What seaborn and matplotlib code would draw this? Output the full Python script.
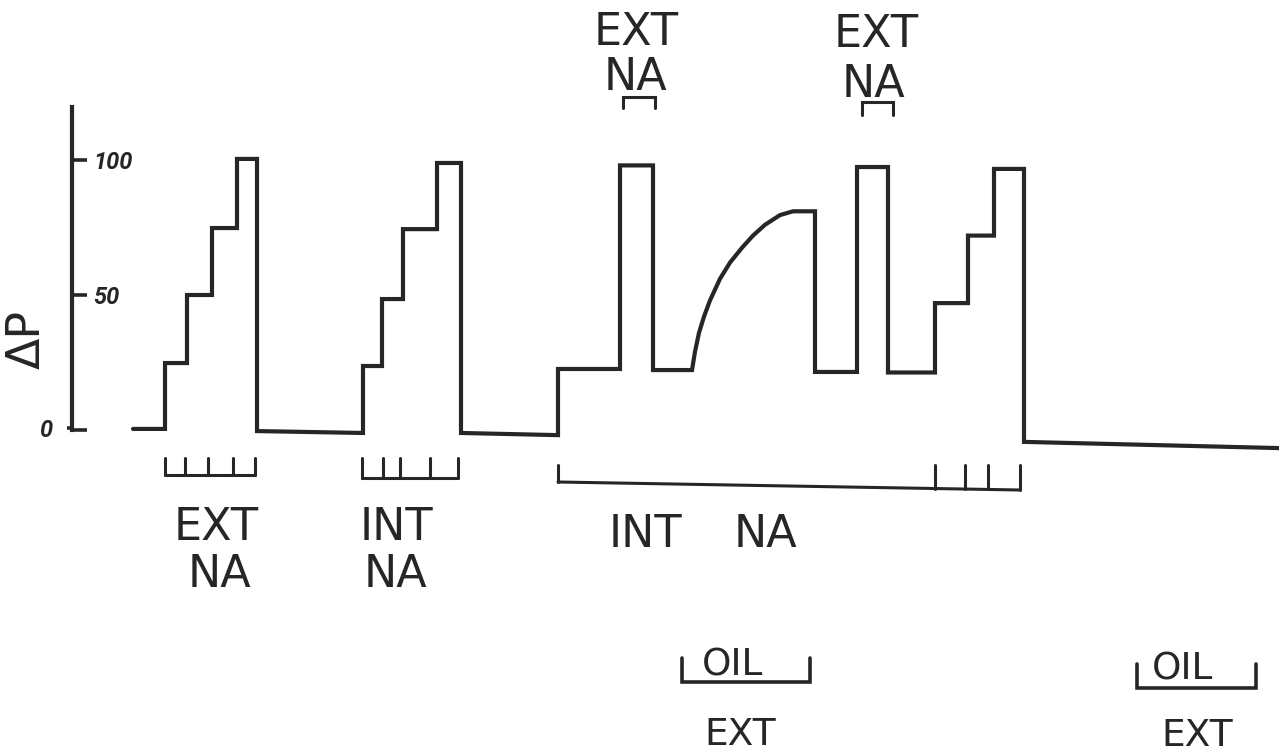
import numpy as np
import pandas as pd
import matplotlib
matplotlib.use("Agg")
import matplotlib.pyplot as plt
import seaborn as sns

# ---------------- data ----------------
# recorded trace: time (arbitrary units) and pressure difference ΔP
trace_time = [133, 165, 165, 187, 187, 212, 212, 237, 237, 257, 257,
              363, 363, 382, 382, 403, 403, 437, 437, 461, 461,
              558, 558, 620, 620, 653, 653, 692]
trace_dp = [0.4, 0.4, 24.8, 24.8, 50, 50, 74.8, 74.8, 100.4, 100.4, -0.4,
            -1.1, 23.7, 23.7, 48.5, 48.5, 74.4, 74.4, 98.9, 98.9, -1.1,
            -1.9, 22.6, 22.6, 98, 98, 22.2, 22.2]
curve_time = [695, 699, 704, 710, 720, 730, 742, 753, 765, 780, 793, 815]
curve_dp = [29, 36, 42, 48, 56, 62, 67.5, 72, 76, 79.6, 81, 81]
tail_time = [815, 857, 857, 888, 888, 935, 935, 968, 968, 994, 994, 1024, 1024, 1279]
tail_dp = [21.5, 21.5, 97.4, 97.4, 21.3, 21.3, 47, 47, 72, 72, 96.7, 96.7, -4.4, -6.7]

y_ticks = [0, 50, 100]
y_tick_labels = ["0", "50", "100"]
y_label = "ΔP"

# stimulus marks under the trace
marks_ext_na = [165, 185, 208, 233, 255]
marks_int_na = [362, 383, 400, 430, 458]
marks_int_na_long = [558, 935, 965, 988, 1020]
marks_top = [(623, 655), (862, 893)]
marks_oil = [(682, 810), (1137, 1256)]

# ---------------- layout helpers (pixel -> ΔP scale) ----------------
Y0_PX, PX_PER_UNIT = 430.0, 2.7
def V(py):
    return (Y0_PX - py) / PX_PER_UNIT

INK = "#262626"
W, H = 1279, 756

sns.set_style("white")
plt.rcParams["font.family"] = ["DejaVu Sans"]

fig = plt.figure(figsize=(W / 100, H / 100), dpi=100)
ax = fig.add_axes([0, 0, 1, 1])

df = pd.DataFrame({
    "t": trace_time + curve_time + tail_time,
    "dp": trace_dp + curve_dp + tail_dp,
})
sns.lineplot(data=df, x="t", y="dp", sort=False, estimator=None,
             color=INK, lw=3.0, ax=ax, solid_joinstyle="miter")

ax.set_xlim(0, W)
ax.set_ylim(V(H), V(0))
ax.set_xlabel("")
ax.set_ylabel("")

# axis: a single vertical spine at x=72 with ticks pointing right
for s in ["top", "bottom", "left"]:
    ax.spines[s].set_visible(False)
ax.spines["right"].set_position(("data", 72))
ax.spines["right"].set_bounds(V(430), V(107))
ax.spines["right"].set_linewidth(3.0)
ax.spines["right"].set_color(INK)
ax.set_xticks([])
ax.yaxis.set_ticks_position("right")
ax.set_yticks(y_ticks)
ax.set_yticklabels(["" if l == "0" else l for l in y_tick_labels])
TICK_FONT = ["Roboto", "DejaVu Sans"]
ax.tick_params(axis="y", direction="out", length=11, width=2.6, color=INK,
               pad=4, labelsize=17, labelcolor=INK)
for lab in ax.get_yticklabels():
    lab.set_fontstyle("italic")
    lab.set_fontweight("bold")
    lab.set_family(TICK_FONT)
ax.text(46, V(430), y_tick_labels[0], fontsize=17, fontstyle="italic",
        fontweight="bold", family=TICK_FONT,
        color=INK, ha="center", va="center")
ax.plot([67, 72], [V(428), V(428)], color=INK, lw=2.6, solid_capstyle="butt")

ax.text(27, V(339), y_label, rotation=90, fontsize=33, color=INK,
        ha="center", va="center")

# ---------------- brackets ----------------
BLW = 2.2
def under_bracket(marks, y_base_l, y_base_r, y_top):
    xs = [marks[0], marks[-1]]
    ax.plot(xs, [V(y_base_l), V(y_base_r)], color=INK, lw=BLW)
    for m in marks:
        yb = y_base_l + (y_base_r - y_base_l) * (m - xs[0]) / (xs[1] - xs[0])
        ax.plot([m, m], [V(yb), V(y_top)], color=INK, lw=BLW)

under_bracket(marks_ext_na, 475, 475, 458)
under_bracket(marks_int_na, 478, 478, 458)
under_bracket(marks_int_na_long, 482, 490, 465)

def cap_bracket(x0, x1, y_top, y_bot):
    ax.plot([x0, x0, x1, x1], [V(y_bot), V(y_top), V(y_top), V(y_bot)],
            color=INK, lw=BLW, solid_joinstyle="miter")

cap_bracket(*marks_top[0], 97, 108)
cap_bracket(*marks_top[1], 102, 115)

def cup_bracket(x0, x1, y_top, y_bot):
    ax.plot([x0, x0, x1, x1], [V(y_top), V(y_bot), V(y_bot), V(y_top)],
            color=INK, lw=2.6, solid_joinstyle="miter")

cup_bracket(*marks_oil[0], 658, 682)
cup_bracket(*marks_oil[1], 664, 688)

# ---------------- labels ----------------
FS = 32
def lab(x, y_baseline, s, fs=FS):
    ax.text(x, V(y_baseline), s, fontsize=fs, color=INK,
            ha="center", va="baseline")

lab(636, 45, "EXT"); lab(636, 90, "NA")
lab(876, 47, "EXT"); lab(874, 97, "NA")
lab(216, 540, "EXT"); lab(220, 587, "NA")
lab(396, 540, "INT"); lab(396, 587, "NA")
lab(645, 547, "INT"); lab(765, 547, "NA")
lab(733, 676, "OIL", 27); lab(740, 745, "EXT", 27)
lab(1183, 680, "OIL", 27); lab(1197, 746, "EXT", 27)

fig.savefig("out.png", dpi=100, facecolor="white")
